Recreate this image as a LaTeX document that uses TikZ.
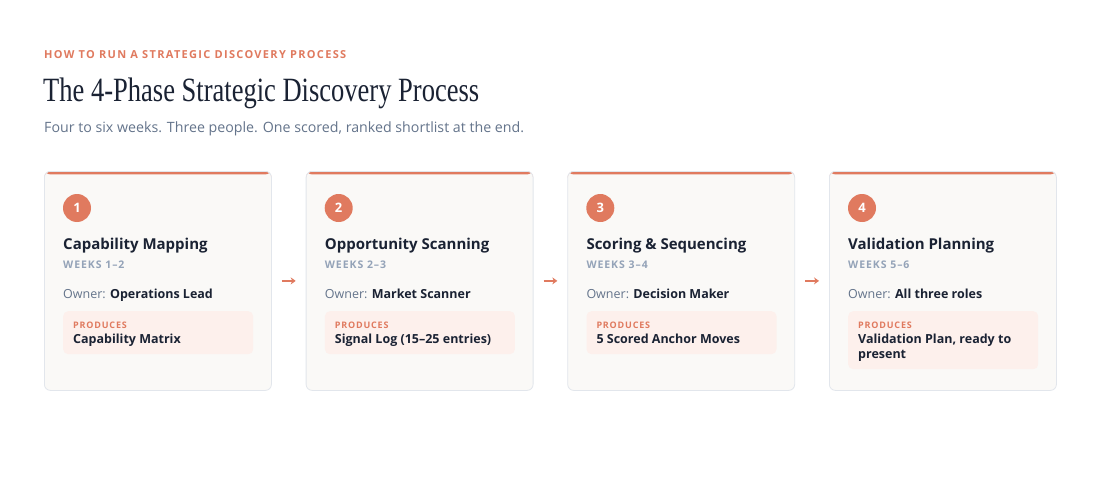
\documentclass[tikz,border=0pt]{standalone}
\usepackage{fontspec}
\setmainfont{Open Sans}
\newfontfamily\titlefont[FakeStretch=0.78]{Liberation Serif}
\newfontfamily\capsfont[LetterSpace=9]{Open Sans}
\newfontfamily\eyebrowfont[LetterSpace=12]{Open Sans}
\usetikzlibrary{positioning,arrows.meta}
\definecolor{accent}{HTML}{E07A5F}
\definecolor{ink}{HTML}{1A2233}
\definecolor{muted}{HTML}{64748B}
\definecolor{weekgray}{HTML}{94A3B8}
\definecolor{cardbg}{HTML}{FAF9F7}
\definecolor{cardline}{HTML}{E2E6EC}
\definecolor{prodbg}{HTML}{FDF0EC}
\tikzset{
  card/.style={rectangle, rounded corners=6pt, fill=cardbg, draw=cardline, line width=0.8pt,
    minimum width=227pt, minimum height=219pt, anchor=north west, inner sep=0pt,
    path picture={\fill[accent] (path picture bounding box.north west) rectangle ([yshift=-3pt]path picture bounding box.north east);}},
  phaseNum/.style={circle, fill=accent, text=white, minimum size=28pt, inner sep=0pt, font=\fontsize{13}{15}\selectfont\bfseries},
  phaseName/.style={anchor=base west, inner sep=0pt, text=ink, font=\fontsize{15}{18}\selectfont\bfseries},
  weeks/.style={anchor=base west, inner sep=0pt, text=weekgray, font=\capsfont\fontsize{10.5}{12}\selectfont\bfseries},
  owner/.style={anchor=base west, inner sep=0pt, text=muted, font=\fontsize{12.5}{15}\selectfont},
  prodBox/.style={rectangle, rounded corners=5pt, fill=prodbg, minimum width=190pt, minimum height=43pt, anchor=north west, inner sep=0pt},
  prodLabel/.style={anchor=base west, inner sep=0pt, text=accent, font=\capsfont\fontsize{9}{11}\selectfont\bfseries},
  prodText/.style={anchor=base west, inner sep=0pt, text=ink, align=left, font=\fontsize{12.5}{15}\selectfont\bfseries},
  flow/.style={draw=accent, line width=1.6pt, -{Stealth[length=5pt,width=7pt]}, shorten >=10pt, shorten <=10pt}
}

\begin{document}
\begin{tikzpicture}[x=1pt, y=-1pt]
  \useasboundingbox[fill=white] (0,0) rectangle (1100,500);

  % heading
  \node[anchor=base west, inner sep=0pt, text=accent, font=\eyebrowfont\fontsize{11}{13}\selectfont\bfseries] (eyebrow) at (44,59) {HOW TO RUN A STRATEGIC DISCOVERY PROCESS};
  \node[anchor=base west, inner sep=0pt, text=ink, font=\titlefont\fontsize{34}{36}\selectfont] (heading) at (43,102) {The 4-Phase Strategic Discovery Process};
  \node[anchor=base west, inner sep=0pt, text=muted, font=\fontsize{14.2}{16}\selectfont] (subheading) at (44,132) {Four to six weeks. Three people. One scored, ranked shortlist at the end.};

  % phase 1
  \node[card] (card1) at (44,171) {};
  \node[phaseNum] (num1) at ([shift={(33,37)}]card1.north west) {1};
  \node[phaseName] (name1) at ([shift={(19,78)}]card1.north west) {Capability Mapping};
  \node[weeks] (weeks1) at ([shift={(19,97)}]card1.north west) {WEEKS 1–2};
  \node[owner] (owner1) at ([shift={(19,127)}]card1.north west) {Owner: \textcolor{ink}{\bfseries Operations Lead}};
  \node[prodBox] (prod1) at ([shift={(19,140)}]card1.north west) {};
  \node[prodLabel] (plabel1) at ([shift={(29,157)}]card1.north west) {PRODUCES};
  \node[prodText] (ptext1) at ([shift={(29,172)}]card1.north west) {Capability Matrix};

  % phase 2
  \node[card] (card2) at (305.7,171) {};
  \node[phaseNum] (num2) at ([shift={(33,37)}]card2.north west) {2};
  \node[phaseName] (name2) at ([shift={(19,78)}]card2.north west) {Opportunity Scanning};
  \node[weeks] (weeks2) at ([shift={(19,97)}]card2.north west) {WEEKS 2–3};
  \node[owner] (owner2) at ([shift={(19,127)}]card2.north west) {Owner: \textcolor{ink}{\bfseries Market Scanner}};
  \node[prodBox] (prod2) at ([shift={(19,140)}]card2.north west) {};
  \node[prodLabel] (plabel2) at ([shift={(29,157)}]card2.north west) {PRODUCES};
  \node[prodText] (ptext2) at ([shift={(29,172)}]card2.north west) {Signal Log (15–25 entries)};

  % phase 3
  \node[card] (card3) at (567.3,171) {};
  \node[phaseNum] (num3) at ([shift={(33,37)}]card3.north west) {3};
  \node[phaseName] (name3) at ([shift={(19,78)}]card3.north west) {Scoring \& Sequencing};
  \node[weeks] (weeks3) at ([shift={(19,97)}]card3.north west) {WEEKS 3–4};
  \node[owner] (owner3) at ([shift={(19,127)}]card3.north west) {Owner: \textcolor{ink}{\bfseries Decision Maker}};
  \node[prodBox] (prod3) at ([shift={(19,140)}]card3.north west) {};
  \node[prodLabel] (plabel3) at ([shift={(29,157)}]card3.north west) {PRODUCES};
  \node[prodText] (ptext3) at ([shift={(29,172)}]card3.north west) {5 Scored Anchor Moves};

  % phase 4
  \node[card] (card4) at (829,171) {};
  \node[phaseNum] (num4) at ([shift={(33,37)}]card4.north west) {4};
  \node[phaseName] (name4) at ([shift={(19,78)}]card4.north west) {Validation Planning};
  \node[weeks] (weeks4) at ([shift={(19,97)}]card4.north west) {WEEKS 5–6};
  \node[owner] (owner4) at ([shift={(19,127)}]card4.north west) {Owner: \textcolor{ink}{\bfseries All three roles}};
  \node[prodBox, minimum height=58pt] (prod4) at ([shift={(19,140)}]card4.north west) {};
  \node[prodLabel] (plabel4) at ([shift={(29,157)}]card4.north west) {PRODUCES};
  \node[prodText] (ptext4) at ([shift={(29,187)}]card4.north west) {Validation Plan, ready to\\present};

  % flow between phases
  \draw[flow] (card1) -- (card2);
  \draw[flow] (card2) -- (card3);
  \draw[flow] (card3) -- (card4);
\end{tikzpicture}
\end{document}
